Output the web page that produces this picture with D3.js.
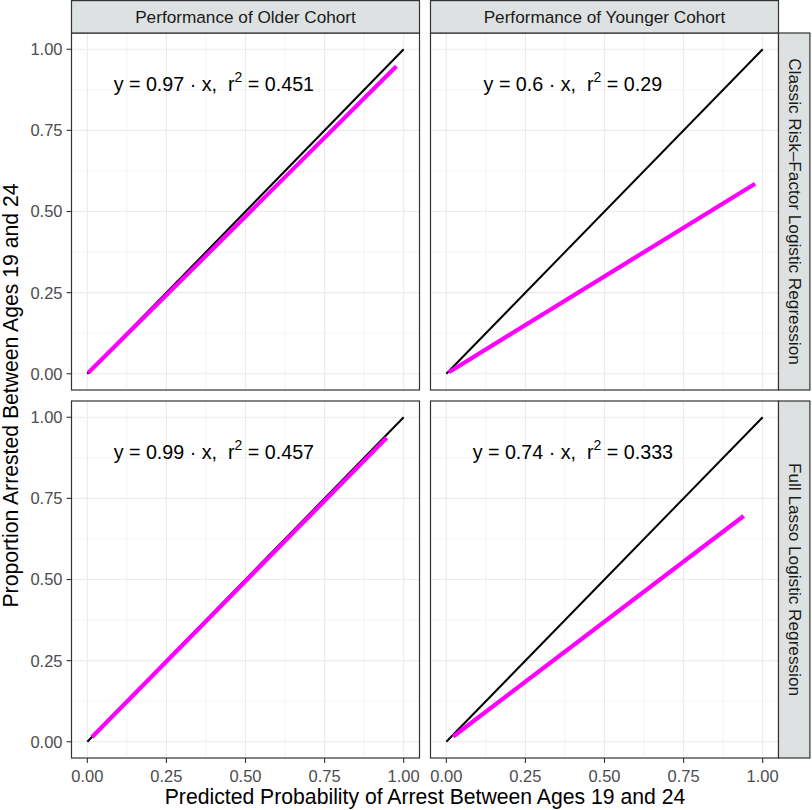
<!DOCTYPE html>
<html>
<head>
<meta charset="utf-8">
<script src="https://cdn.jsdelivr.net/npm/d3@7"></script>
<style>
  html, body { margin: 0; padding: 0; background: #fff; }
  svg { display: block; font-family: "Liberation Sans", Arial, sans-serif; }
  .eq { white-space: pre; }
</style>
</head>
<body>
<div id="chart"></div>
<script>
// Calibration facets: cohort (columns) x model (rows)
const cohorts = ["Performance of Older Cohort", "Performance of Younger Cohort"];
const models = ["Classic Risk\u2013Factor Logistic Regression", "Full Lasso Logistic Regression"];

// one entry per panel, row by row
const slopes = [0.97, 0.6, 0.99, 0.74];
const r2Labels = ["0.451", "0.29", "0.457", "0.333"];
const fitStart = [0.003, 0.008, 0.015, 0.022];
const fitEnd = [0.977, 0.976, 0.946, 0.94];

const majorTicks = [0, 0.25, 0.5, 0.75, 1];
const minorTicks = [0.125, 0.375, 0.625, 0.875];

const width = 812, height = 810;
const mLeft = 71.5, mTop = 33, panelW = 348, panelH = 357, gap = 11, stripW = 32;

const svg = d3.select('#chart').append('svg')
  .attr('width', width)
  .attr('height', height);

const x = d3.scaleLinear().domain([-0.05, 1.05]).range([0, panelW]);
const y = d3.scaleLinear().domain([-0.05, 1.05]).range([panelH, 0]);

const fmt = d3.format('.2f');

models.forEach((model, row) => {
  cohorts.forEach((cohort, col) => {
    const i = row * 2 + col;
    const px = mLeft + col * (panelW + gap);
    const py = mTop + row * (panelH + gap);
    const g = svg.append('g').attr('transform', `translate(${px},${py})`);

    g.append('rect')
      .attr('width', panelW).attr('height', panelH)
      .attr('fill', '#fff');

    // grid
    g.selectAll('.minx').data(minorTicks).enter().append('line')
      .attr('x1', d => x(d)).attr('x2', d => x(d))
      .attr('y1', 0).attr('y2', panelH)
      .attr('stroke', '#ECECEC').attr('stroke-width', 0.6);
    g.selectAll('.miny').data(minorTicks).enter().append('line')
      .attr('y1', d => y(d)).attr('y2', d => y(d))
      .attr('x1', 0).attr('x2', panelW)
      .attr('stroke', '#ECECEC').attr('stroke-width', 0.6);
    g.selectAll('.majx').data(majorTicks).enter().append('line')
      .attr('x1', d => x(d)).attr('x2', d => x(d))
      .attr('y1', 0).attr('y2', panelH)
      .attr('stroke', '#EBEBEB').attr('stroke-width', 1.1);
    g.selectAll('.majy').data(majorTicks).enter().append('line')
      .attr('y1', d => y(d)).attr('y2', d => y(d))
      .attr('x1', 0).attr('x2', panelW)
      .attr('stroke', '#EBEBEB').attr('stroke-width', 1.1);

    // identity line
    g.append('line')
      .attr('x1', x(0)).attr('y1', y(0))
      .attr('x2', x(1)).attr('y2', y(1))
      .attr('stroke', '#000').attr('stroke-width', 2);

    // fitted calibration line
    g.append('line')
      .attr('x1', x(fitStart[i])).attr('y1', y(slopes[i] * fitStart[i]))
      .attr('x2', x(fitEnd[i])).attr('y2', y(slopes[i] * fitEnd[i]))
      .attr('stroke', '#FF00FF').attr('stroke-width', 4.2);

    // equation label
    const t = g.append('text')
      .attr('class', 'eq')
      .attr('x', x(0.4)).attr('y', y(0.9) + 9)
      .attr('text-anchor', 'middle')
      .attr('font-size', 19.7).attr('fill', '#000');
    t.append('tspan').text(`y = ${slopes[i]} \u00B7 x,  r`);
    t.append('tspan').attr('font-size', 14).attr('dy', -8.5).text('2');
    t.append('tspan').attr('dy', 8.5).text(` = ${r2Labels[i]}`);

    // border
    g.append('rect')
      .attr('width', panelW).attr('height', panelH)
      .attr('fill', 'none').attr('stroke', '#333').attr('stroke-width', 1.2);

    // y axis on left column
    if (col === 0) {
      const ya = g.append('g');
      majorTicks.forEach(d => {
        ya.append('line').attr('x1', -5).attr('x2', 0)
          .attr('y1', y(d)).attr('y2', y(d))
          .attr('stroke', '#333').attr('stroke-width', 1.1);
        ya.append('text').attr('x', -9).attr('y', y(d))
          .attr('dy', '0.36em').attr('text-anchor', 'end')
          .attr('font-size', 16.5).attr('fill', '#4D4D4D')
          .text(fmt(d));
      });
    }
    // x axis on bottom row
    if (row === 1) {
      const xa = g.append('g').attr('transform', `translate(0,${panelH})`);
      majorTicks.forEach(d => {
        xa.append('line').attr('y1', 0).attr('y2', 5)
          .attr('x1', x(d)).attr('x2', x(d))
          .attr('stroke', '#333').attr('stroke-width', 1.1);
        xa.append('text').attr('x', x(d)).attr('y', 23.5)
          .attr('text-anchor', 'middle')
          .attr('font-size', 16.5).attr('fill', '#4D4D4D')
          .text(fmt(d));
      });
    }
  });
});

// top strips
cohorts.forEach((cohort, col) => {
  const px = mLeft + col * (panelW + gap);
  svg.append('rect')
    .attr('x', px).attr('y', 0.6).attr('width', panelW).attr('height', mTop - 0.6)
    .attr('fill', '#DDE1E1').attr('stroke', '#333').attr('stroke-width', 1.2);
  svg.append('text')
    .attr('x', px + panelW / 2).attr('y', mTop / 2 + 6)
    .attr('text-anchor', 'middle')
    .attr('font-size', 17.2).attr('fill', '#1A1A1A')
    .text(cohort);
});

// right strips
models.forEach((model, row) => {
  const sx = mLeft + 2 * panelW + gap;
  const sy = mTop + row * (panelH + gap);
  svg.append('rect')
    .attr('x', sx).attr('y', sy).attr('width', stripW - 0.6).attr('height', panelH)
    .attr('fill', '#DDE1E1').attr('stroke', '#333').attr('stroke-width', 1.2);
  svg.append('text')
    .attr('transform', `translate(${sx + stripW / 2 - 6},${sy + panelH / 2}) rotate(90)`)
    .attr('text-anchor', 'middle')
    .attr('font-size', 17.2).attr('fill', '#1A1A1A')
    .text(model);
});

// axis titles
svg.append('text')
  .attr('x', mLeft + panelW + gap / 2).attr('y', 804)
  .attr('text-anchor', 'middle')
  .attr('font-size', 21.2).attr('fill', '#000')
  .text('Predicted Probability of Arrest Between Ages 19 and 24');

svg.append('text')
  .attr('transform', `translate(18,${mTop + panelH + gap / 2}) rotate(-90)`)
  .attr('text-anchor', 'middle')
  .attr('font-size', 21.2).attr('fill', '#000')
  .text('Proportion Arrested Between Ages 19 and 24');
</script>
</body>
</html>
